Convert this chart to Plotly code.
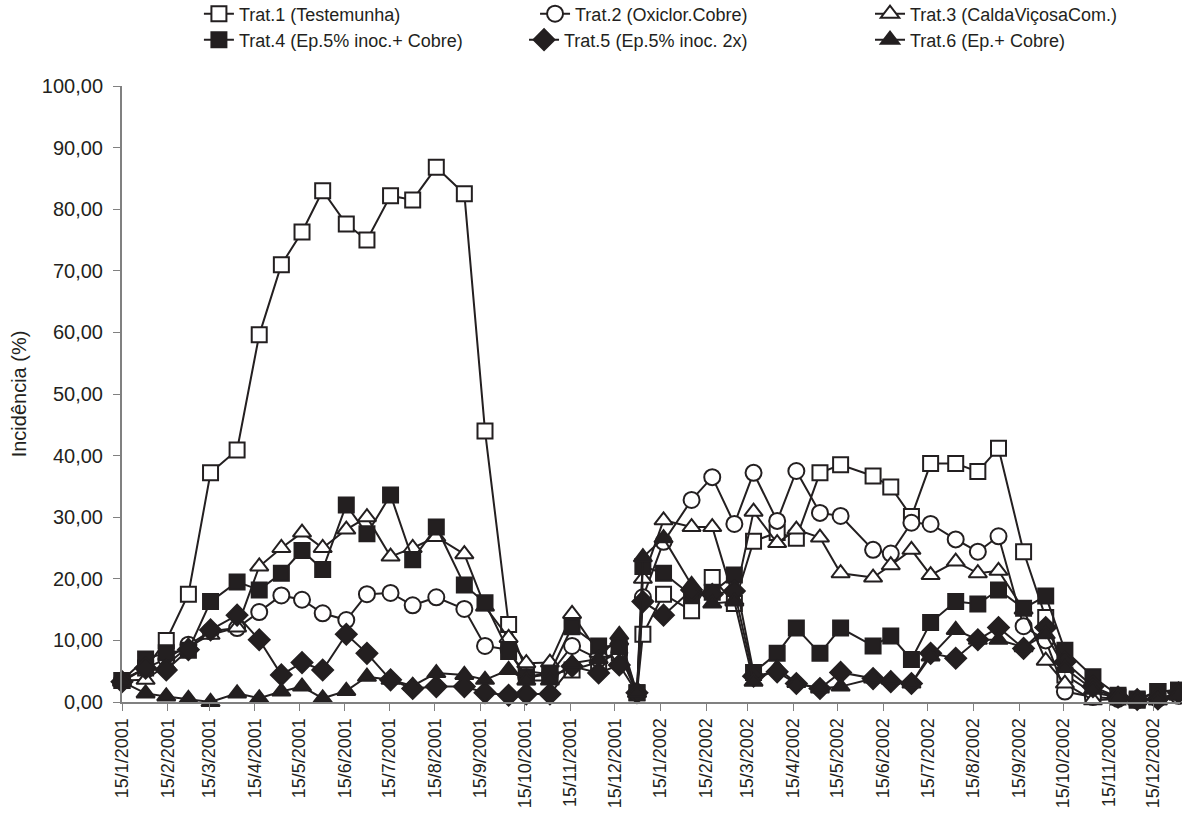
import plotly.graph_objects as go

dates = [
    "2001-01-15", "2001-01-31", "2001-02-14", "2001-03-01", "2001-03-16", "2001-04-03",
    "2001-04-18", "2001-05-03", "2001-05-17", "2001-05-31", "2001-06-16", "2001-06-30",
    "2001-07-16", "2001-07-31", "2001-08-16", "2001-09-04", "2001-09-18", "2001-10-04",
    "2001-10-16", "2001-11-01", "2001-11-16", "2001-12-04", "2001-12-18", "2001-12-30",
    "2002-01-03", "2002-01-17", "2002-02-05", "2002-02-19", "2002-03-06", "2002-03-19",
    "2002-04-04", "2002-04-17", "2002-05-03", "2002-05-17", "2002-06-08", "2002-06-20",
    "2002-07-04", "2002-07-17", "2002-08-03", "2002-08-18", "2002-09-01", "2002-09-18",
    "2002-10-03", "2002-10-16", "2002-11-04", "2002-11-21", "2002-12-04", "2002-12-18",
    "2003-01-01",
]

trat1 = [3.5, 5.5, 10.0, 17.5, 37.2, 40.9, 59.6, 71.0, 76.3, 83.0, 77.6, 75.0,
         82.2, 81.5, 86.8, 82.5, 44.0, 12.6, 5.0, 4.5, 5.2, 6.5, 8.0, 1.5,
         11.0, 17.5, 14.8, 20.2, 16.0, 26.1, 27.5, 26.6, 37.2, 38.5, 36.7, 34.9,
         30.1, 38.7, 38.7, 37.4, 41.2, 24.4, 13.7, 4.4, 1.5, 0.8, 0.5, 1.7, 1.9]
trat2 = [3.5, 5.5, 7.0, 9.3, 11.5, 12.0, 14.6, 17.3, 16.6, 14.4, 13.3, 17.5,
         17.7, 15.7, 17.0, 15.1, 9.1, 8.5, 4.0, 4.5, 9.1, 7.0, 8.0, 1.5,
         17.0, 26.0, 32.8, 36.5, 28.9, 37.2, 29.4, 37.5, 30.7, 30.2, 24.7, 24.1,
         29.1, 28.9, 26.4, 24.4, 26.9, 12.3, 10.0, 1.7, 0.8, 0.5, 0.3, 0.5, 1.0]
trat3 = [3.5, 3.6, 6.0, 9.0, 10.9, 12.1, 22.0, 25.0, 27.5, 25.0, 28.0, 30.0,
         23.6, 25.0, 26.8, 24.0, 15.5, 10.4, 6.3, 6.4, 14.3, 8.0, 10.0, 1.5,
         20.0, 29.5, 28.4, 28.4, 16.5, 30.9, 25.8, 28.0, 26.7, 20.9, 20.2, 22.2,
         24.7, 20.6, 22.8, 20.9, 21.3, 15.0, 6.7, 3.0, 0.3, 0.5, 0.3, 0.3, 1.0]
trat4 = [3.5, 7.0, 8.0, 8.4, 16.3, 19.5, 18.2, 20.9, 24.6, 21.5, 32.0, 27.3,
         33.6, 23.1, 28.4, 19.0, 16.1, 8.2, 4.1, 4.7, 12.2, 9.1, 9.0, 1.5,
         22.0, 20.9, 17.3, 17.8, 20.6, 4.8, 7.9, 12.0, 7.9, 12.0, 9.1, 10.7,
         6.9, 12.9, 16.3, 15.9, 18.2, 15.2, 17.2, 8.4, 4.1, 1.1, 0.3, 1.7, 1.9]
trat5 = [3.3, 5.5, 5.2, 8.5, 11.7, 14.1, 10.1, 4.4, 6.4, 5.2, 11.0, 7.9,
         3.6, 2.2, 2.5, 2.5, 1.5, 1.1, 1.3, 1.3, 5.8, 4.7, 6.0, 1.5,
         16.3, 14.1, 18.2, 17.5, 18.0, 4.2, 4.9, 3.0, 2.2, 4.8, 3.8, 3.3,
         3.0, 7.9, 7.1, 10.1, 12.1, 8.7, 12.1, 6.5, 2.5, 0.8, 0.4, 0.5, 1.5]
trat6 = [3.3, 1.4, 0.9, 0.5, 0.0, 1.4, 0.6, 1.7, 2.5, 0.6, 1.8, 4.1,
         3.6, 2.6, 4.7, 4.4, 3.6, 5.2, 3.5, 3.5, 6.3, 7.0, 10.9, 1.5,
         23.5, 26.6, 19.0, 16.0, 16.3, 3.3, 5.5, 3.1, 2.2, 2.5, 3.8, 3.6,
         3.0, 7.4, 11.7, 10.1, 10.1, 8.9, 11.0, 5.5, 2.0, 0.8, 0.3, 0.3, 1.3]

names = [
    "Trat.1 (Testemunha)",
    "Trat.2 (Oxiclor.Cobre)",
    "Trat.3 (CaldaViçosaCom.)",
    "Trat.4 (Ep.5% inoc.+ Cobre)",
    "Trat.5 (Ep.5% inoc. 2x)",
    "Trat.6 (Ep.+ Cobre)",
]
series = [trat1, trat2, trat3, trat4, trat5, trat6]

INK = "#231f20"
styles = [
    dict(symbol="square", color="white", size=15),
    dict(symbol="circle", color="white", size=16),
    dict(symbol="triangle-up", color="white", size=16),
    dict(symbol="square", color=INK, size=15),
    dict(symbol="diamond", color=INK, size=16),
    dict(symbol="triangle-up", color=INK, size=16),
]

# legend placement (paper coords): two rows of three entries
leg_x = [0.0727, 0.3904, 0.7070, 0.0727, 0.3800, 0.7070]
leg_y = [1.1169, 1.1169, 1.1169, 1.0747, 1.0747, 1.0747]
leg_ids = ["legend", "legend2", "legend3", "legend4", "legend5", "legend6"]

fig = go.Figure()
for name, ys, st, lid in zip(names, series, styles, leg_ids):
    fig.add_trace(go.Scatter(
        x=dates, y=ys, name=name, mode="lines+markers",
        line=dict(color=INK, width=2),
        marker=dict(symbol=st["symbol"], size=st["size"], color=st["color"],
                    line=dict(color=INK, width=2)),
        cliponaxis=False, legend=lid,
    ))

legends = {}
for lid, lx, ly in zip(leg_ids, leg_x, leg_y):
    legends[lid] = dict(
        orientation="h", x=lx, xanchor="left", y=ly, yanchor="middle",
        font=dict(size=18, color=INK), itemwidth=30,
        bgcolor="rgba(0,0,0,0)", borderwidth=0,
    )

fig.update_layout(
    width=1182, height=821,
    margin=dict(l=122, r=2, t=86, b=119, autoexpand=False),
    paper_bgcolor="white", plot_bgcolor="white",
    separators=",.",
    font=dict(family="Liberation Sans, Arial, sans-serif", size=18, color=INK),
    showlegend=True,
    xaxis=dict(
        type="date", range=["2001-01-15", "2003-01-02"],
        tick0="2001-01-15", dtick="M1", tickformat="%-d/%-m/%Y",
        tickangle=-90, ticks="outside", ticklen=7, tickcolor="#808080",
        showline=True, linecolor="#808080", linewidth=2,
        showgrid=False, zeroline=False,
        tickfont=dict(size=18, color=INK),
    ),
    yaxis=dict(
        range=[0, 100], dtick=10, tickformat=".2f",
        ticks="outside", ticklen=7, tickcolor="#808080",
        showline=True, linecolor="#808080", linewidth=2,
        showgrid=False, zeroline=False,
        tickfont=dict(size=20, color=INK), ticklabelstandoff=6,
        title=dict(text="Incidência (%)", font=dict(size=20, color=INK), standoff=10),
        automargin=False,
    ),
    **legends,
)

fig.write_html(
    "out.html",
    config={"displayModeBar": False},
    post_script="document.body.style.margin='0px';document.body.style.overflow='hidden';",
)
